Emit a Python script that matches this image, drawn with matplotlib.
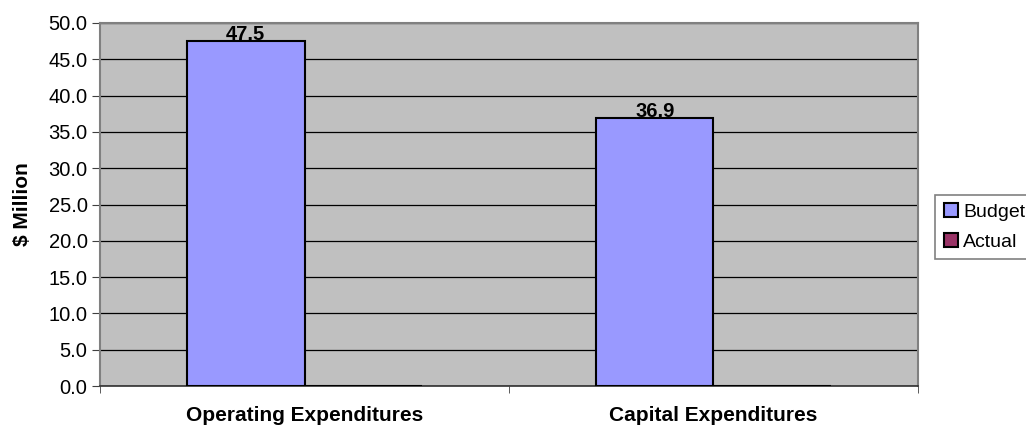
import numpy as np
import matplotlib.pyplot as plt

categories = ["Operating Expenditures", "Capital Expenditures"]
budget = [47.5, 36.9]
actual = [0.0, 0.0]

plt.rcParams['font.family'] = ['Liberation Sans', 'DejaVu Sans']

fig = plt.figure(figsize=(10.26, 4.29), dpi=100)
ax = fig.add_axes([100 / 1026, 43 / 429, 818 / 1026, 363 / 429])
ax.set_facecolor('#C0C0C0')

x = np.arange(len(categories))
w = 0.287
b1 = ax.bar(x - w / 2, budget, w, color='#9999FF', edgecolor='black', linewidth=1.5, label='Budget', zorder=3)
b2 = ax.bar(x + w / 2, actual, w, color='#993366', edgecolor='black', linewidth=1.5, label='Actual', zorder=3)

for rect, v in zip(b1, budget):
    ax.annotate(f"{v:.1f}", (rect.get_x() + rect.get_width() / 2, v), xytext=(0, 1),
                textcoords='offset points', ha='center', va='baseline',
                fontsize=14.5, fontweight='bold', zorder=4)

ax.set_xlim(-0.5, 1.5)
ax.set_ylim(0, 50)
yt = np.arange(0, 50.1, 5)
ax.set_yticks(yt)
ax.set_yticklabels([f"{t:.1f}" for t in yt], fontsize=14.5)
ax.yaxis.grid(True, color='black', linewidth=0.9, zorder=1)
ax.set_axisbelow(True)

ax.set_xticks(x)
ax.set_xticklabels(categories, fontsize=15, fontweight='bold')
ax.tick_params(axis='x', which='major', length=0, pad=14.5)
ax.set_xticks([-0.5, 0.5, 1.5], minor=True)
ax.tick_params(axis='x', which='minor', length=5, color='#404040')
ax.tick_params(axis='y', length=6, color='#404040', pad=3)

for s in ['top', 'right', 'left']:
    ax.spines[s].set_color('#808080')
    ax.spines[s].set_linewidth(1.5)
ax.spines['bottom'].set_color('#303030')
ax.spines['bottom'].set_linewidth(1.2)

ax.set_ylabel("\\$ Million", fontsize=15, fontweight='bold', labelpad=12)

leg = ax.legend(loc='center left', bbox_to_anchor=(1.021, 0.438), fontsize=14, frameon=True,
                fancybox=False, edgecolor='#606060', handlelength=0.72, handleheight=0.72,
                handletextpad=0.3, borderpad=0.43, labelspacing=0.65, borderaxespad=0)
leg.get_frame().set_linewidth(1.2)

fig.savefig('out.png', dpi=100)
